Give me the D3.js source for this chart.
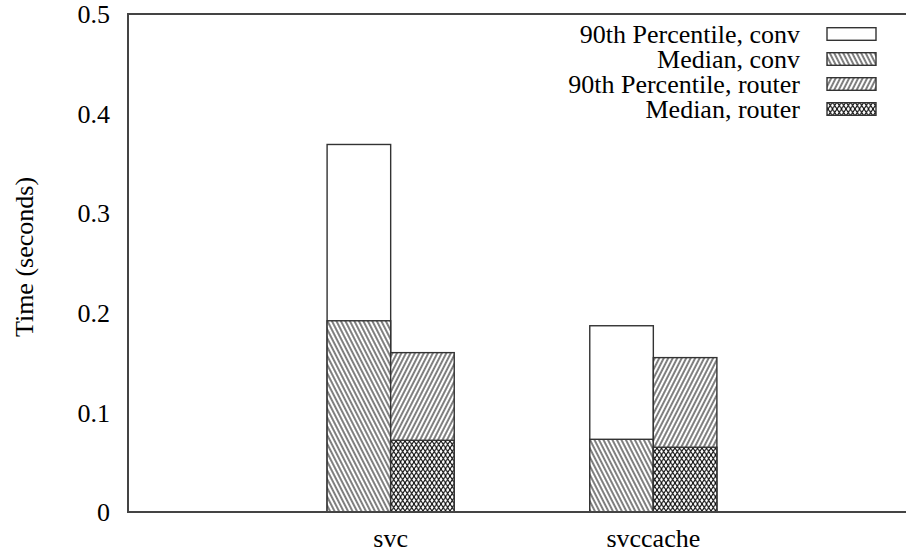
<!DOCTYPE html>
<html>
<head>
<meta charset="utf-8">
<script src="https://cdn.jsdelivr.net/npm/d3@7"></script>
<style>
  html, body { margin: 0; padding: 0; background: #fff; }
  svg text { font-family: "Liberation Serif", "Times New Roman", Times, "DejaVu Serif", "Noto Serif", serif; fill: #000; }
</style>
</head>
<body>
<div id="chart"></div>
<script>
const WIDTH = 906;
const HEIGHT = 552;

// data
const categories = ['svc', 'svccache'];
const conv90 = [0.369, 0.187];
const convMedian = [0.192, 0.073];
const router90 = [0.160, 0.155];
const routerMedian = [0.072, 0.065];
const yTicks = [0, 0.1, 0.2, 0.3, 0.4, 0.5];
const legendLabels = ['90th Percentile, conv', 'Median, conv', '90th Percentile, router', 'Median, router'];
const legendFills = ['white', 'url(#hatchDown)', 'url(#hatchUp)', 'url(#cross)'];

const BOX = 0.242;
const FONT = '"Liberation Serif", "Times New Roman", Times, "DejaVu Serif", serif';

var svg = d3.select('#chart')
    .append('svg')
    .attr('width', WIDTH)
    .attr('height', HEIGHT);

// x runs from -1 to 2, cluster i sits at x = i (right border is off the picture)
var x = d3.scaleLinear().domain([-1, 2]).range([128, 916]);
var y = d3.scaleLinear().domain([0, 0.5]).range([512, 14]);

var defs = svg.append('defs');

function hatch(id, angle) {
    let p = defs.append('pattern')
        .attr('id', id)
        .attr('patternUnits', 'userSpaceOnUse')
        .attr('width', 4)
        .attr('height', 4)
        .attr('patternTransform', 'rotate(' + angle + ')');
    p.append('rect').attr('width', 4).attr('height', 4).attr('fill', 'white');
    p.append('line')
        .attr('x1', 2).attr('y1', -1).attr('x2', 2).attr('y2', 5)
        .attr('stroke', '#000').attr('stroke-width', 1);
}
hatch('hatchDown', -27);
hatch('hatchUp', 27);

let cp = defs.append('pattern')
    .attr('id', 'cross')
    .attr('patternUnits', 'userSpaceOnUse')
    .attr('width', 4.5)
    .attr('height', 7);
cp.append('rect').attr('width', 4.5).attr('height', 7).attr('fill', 'white');
cp.append('path')
    .attr('d', 'M0,0L4.5,7M4.5,0L0,7')
    .attr('stroke', '#000').attr('stroke-width', 1).attr('fill', 'none');

// bars, drawn tallest first so the medians sit on top
let series = [
    {values: conv90, offset: -BOX, fill: 'white'},
    {values: convMedian, offset: -BOX, fill: 'url(#hatchDown)'},
    {values: router90, offset: 0, fill: 'url(#hatchUp)'},
    {values: routerMedian, offset: 0, fill: 'url(#cross)'}
];

series.forEach(s => {
    svg.append('g')
        .selectAll('rect')
        .data(s.values)
        .enter()
        .append('rect')
        .attr('x', (d, i) => x(i + s.offset))
        .attr('y', d => y(d))
        .attr('width', x(BOX) - x(0))
        .attr('height', d => y(0) - y(d))
        .attr('fill', s.fill)
        .attr('stroke', '#333')
        .attr('stroke-width', 1.4);
});

// border
svg.append('rect')
    .attr('x', x(-1))
    .attr('y', y(0.5))
    .attr('width', x(2) - x(-1))
    .attr('height', y(0) - y(0.5))
    .attr('fill', 'none')
    .attr('stroke', '#444')
    .attr('stroke-width', 2);

// y tick labels
svg.append('g')
    .selectAll('text')
    .data(yTicks)
    .enter()
    .append('text')
    .attr('x', 110)
    .attr('y', d => y(d))
    .attr('dy', '0.35em')
    .attr('text-anchor', 'end')
    .attr('font-family', FONT)
    .attr('font-size', 26)
    .text(d => d === 0 ? '0' : d3.format('.1f')(d));

// x labels
svg.append('g')
    .selectAll('text')
    .data(categories)
    .enter()
    .append('text')
    .attr('x', (d, i) => x(i))
    .attr('y', 547)
    .attr('text-anchor', 'middle')
    .attr('font-family', FONT)
    .attr('font-size', 26)
    .text(d => d);

svg.append('text')
    .attr('transform', 'translate(33,257) rotate(-90)')
    .attr('text-anchor', 'middle')
    .attr('font-family', FONT)
    .attr('font-size', 26)
    .text('Time (seconds)');

// legend
let legend = svg.append('g')
    .selectAll('g')
    .data(legendLabels)
    .enter()
    .append('g')
    .attr('transform', (d, i) => 'translate(0,' + (34 + i * 25) + ')');

legend.append('text')
    .attr('x', 800)
    .attr('dy', '0.35em')
    .attr('text-anchor', 'end')
    .attr('font-family', FONT)
    .attr('font-size', 26)
    .text(d => d);

legend.append('rect')
    .attr('x', 827)
    .attr('y', -6.3)
    .attr('width', 49)
    .attr('height', 12.6)
    .attr('fill', (d, i) => legendFills[i])
    .attr('stroke', '#333')
    .attr('stroke-width', 1.4);
</script>
</body>
</html>
